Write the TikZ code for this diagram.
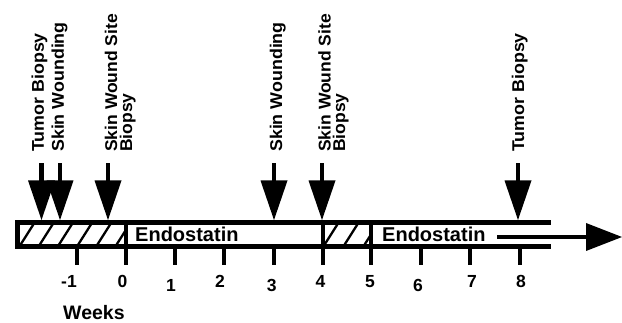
\documentclass[tikz,border=0pt]{standalone}
\usepackage{fontspec}
\setmainfont{Liberation Sans}
\begin{document}
\begin{tikzpicture}[x=1pt,y=-1pt,
  lab/.style={rotate=90,anchor=base west,inner sep=0pt,font=\bfseries\fontsize{17}{19}\selectfont},
  num/.style={anchor=base,inner sep=0pt,font=\bfseries\fontsize{17.5}{19}\selectfont},
  endo/.style={anchor=base west,inner sep=0pt,font=\bfseries\fontsize{20}{22}\selectfont},
  hatchline/.style={line width=2.3pt},
  evarrow/.pic={\fill (-2.25,-57) rectangle (2.25,-39);
                \fill (-13.5,-39.5) -- (13.5,-39.5) -- (0,0) -- cycle;}
]
\useasboundingbox (0,0) rectangle (622,323);
\fill[white] (0,0) rectangle (622,323);

% hatching
\begin{scope}
  \clip (20,225) rectangle (124,244);
  \foreach \a in {21,40.2,...,130} \draw[hatchline] (\a-1.3,246) -- (\a+13.3,223);
\end{scope}
\begin{scope}
  \clip (325,225) rectangle (369,244);
  \foreach \a in {325,345,365} \draw[hatchline] (\a-1.3,246) -- (\a+13.3,223);
\end{scope}

% bar
\fill (15,220) rectangle (551,225);
\fill (15,244) rectangle (551,249);
\fill (15,220) rectangle (20,249);
% dividers
\fill (124,220) rectangle (128,265);
\fill (321,220) rectangle (325,265);
\fill (369,220) rectangle (373,265);
% ticks
\foreach \x in {76.8,175.2,224.4,273.6,421.2,470.4,519.6}
  \fill (\x-2,249) rectangle (\x+2,265);

% tick labels
\node[num] (tm1) at (69,288) {-1};
\node[num] (t0) at (122.5,288) {0};
\node[num] (t1) at (171,291.5) {1};
\node[num] (t2) at (220,288) {2};
\node[num] (t3) at (271.7,291.5) {3};
\node[num] (t4) at (320.5,287.5) {4};
\node[num] (t5) at (370,287.3) {5};
\node[num] (t6) at (418,291.5) {6};
\node[num] (t7) at (472,288) {7};
\node[num] (t8) at (521,287.7) {8};
\node[anchor=base west,inner sep=0pt,font=\bfseries\fontsize{19.5}{22}\selectfont] (weeks) at (63,320) {Weeks};

% Endostatin
\node[endo] (endo1) at (135,241.7) {Endostatin};
\node[endo] (endo2) at (382,241.7) {Endostatin};

% right arrow
\fill (497,235) rectangle (587,239);
\coordinate (rtip) at (622,237);
\fill (586,223) -- (586,251) -- (rtip) -- cycle;

% event arrows
\foreach \n/\x in {a1/41.5,a2/60,a3/108,a4/274,a5/322,a6/518}{
  \coordinate (\n) at (\x,220);
  \pic at (\n) {evarrow};
}

% labels
\node[lab] (l1) at (43.9,152) {\scalebox{1.05}[1]{Tumor Biopsy}};
\node[lab] (l2) at (63.9,152) {\scalebox{1.05}[1]{Skin Wounding}};
\node[lab] (l3a) at (117.2,152) {\scalebox{1.03}[1]{Skin Wound Site}};
\node[lab] (l3b) at (132.2,152) {\scalebox{1.03}[1]{Biopsy}};
\node[lab] (l4) at (282.2,152) {\scalebox{1.05}[1]{Skin Wounding}};
\node[lab] (l5a) at (330.5,152) {\scalebox{1.03}[1]{Skin Wound Site}};
\node[lab] (l5b) at (345.2,152) {\scalebox{1.03}[1]{Biopsy}};
\node[lab] (l6) at (524.2,152) {\scalebox{1.05}[1]{Tumor Biopsy}};
\end{tikzpicture}
\end{document}
